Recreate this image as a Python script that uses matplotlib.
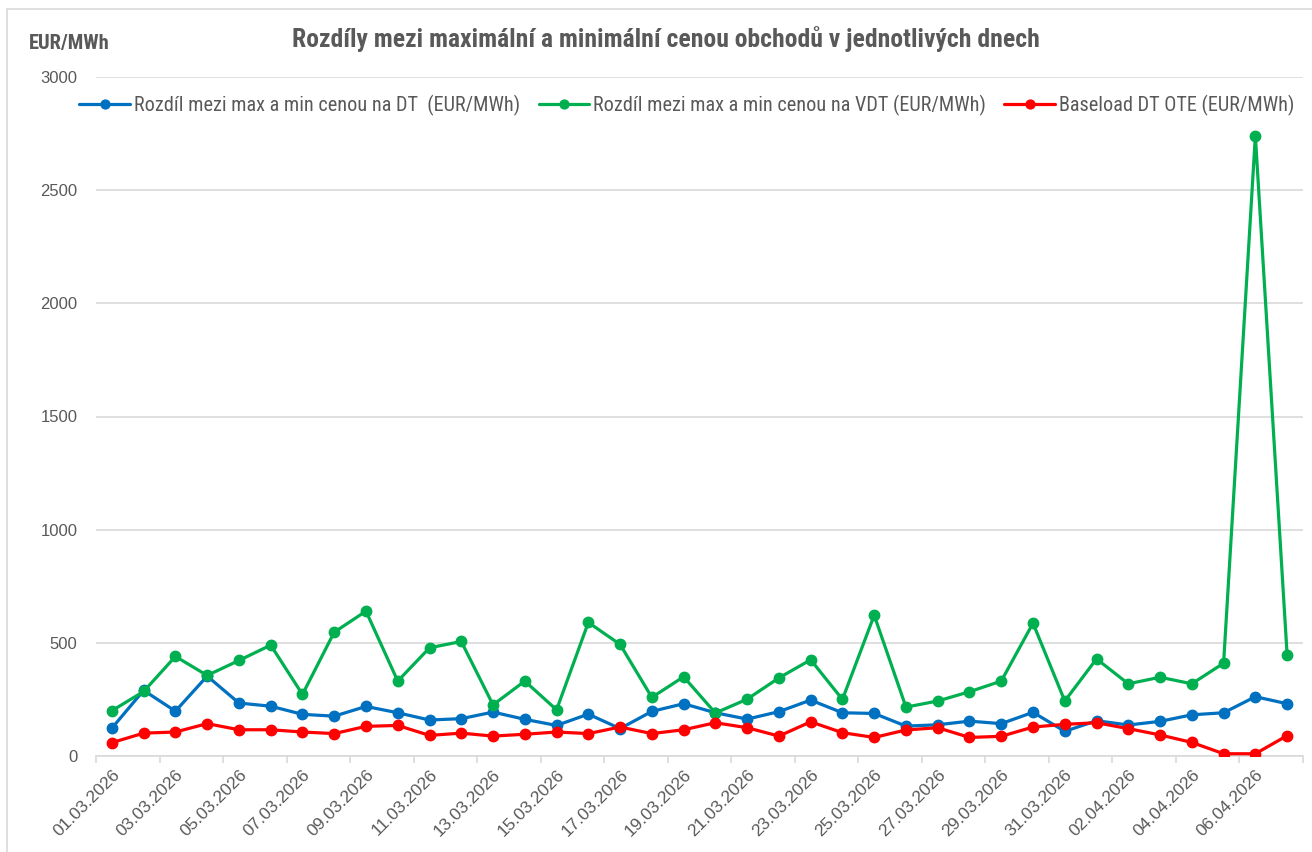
import matplotlib
matplotlib.use("Agg")
import matplotlib.pyplot as plt
import matplotlib.patches as mpatches
import numpy as np
import pandas as pd

dates = pd.date_range("2026-03-01", "2026-04-07", freq="D").strftime("%d.%m.%Y").tolist()

dt_diff = [123, 290, 198, 353, 234, 220, 184, 176, 219, 191, 159, 165, 194,
           162, 135, 185, 121, 197, 231, 191, 163, 196, 247, 191, 188, 132,
           138, 154, 143, 193, 109, 156, 137, 153, 182, 191, 262, 231]
vdt_diff = [200, 285, 440, 356, 422, 490, 272, 547, 640, 331, 478, 506, 226,
            331, 204, 590, 493, 259, 350, 190, 251, 345, 425, 250, 622, 216,
            243, 284, 331, 587, 243, 429, 319, 348, 319, 410, 2740, 447]
baseload = [59, 101, 106, 143, 116, 116, 106, 99, 131, 135, 91, 101, 88,
            96, 106, 99, 128, 99, 116, 147, 125, 88, 151, 103, 82, 115,
            125, 82, 87, 128, 140, 147, 121, 93, 60, 10, 10, 90]

series_names = ["Rozdíl mezi max a min cenou na DT  (EUR/MWh)",
                "Rozdíl mezi max a min cenou na VDT (EUR/MWh)",
                "Baseload DT OTE (EUR/MWh)"]
colors = ["#0070C0", "#00B050", "#FF0000"]
y_ticks = [0, 500, 1000, 1500, 2000, 2500, 3000]

W, H = 1312, 852
fig = plt.figure(figsize=(W / 100, H / 100), dpi=100)
fig.patch.set_facecolor("white")

narrow = ["Liberation Sans Narrow", "Roboto Condensed", "Roboto", "DejaVu Sans"]
arial = ["Liberation Sans", "DejaVu Sans"]
gray = "#595959"

# outer chart border
fig.patches.append(mpatches.Rectangle((7 / W, -0.01), 1.1, 1 - 9 / H + 0.01,
                                      transform=fig.transFigure, fill=False,
                                      edgecolor="#D9D9D9", linewidth=1.2))

ax = fig.add_axes([96 / W, 1 - 756 / H, (1303 - 96) / W, (756 - 77) / H])
x = np.arange(len(dates))

for vals, name, c, z in zip([dt_diff, vdt_diff, baseload], series_names, colors, [3, 4, 5]):
    ax.plot(x, vals, color=c, linewidth=2.3, marker="o", markersize=7.5,
            label=name, zorder=z, solid_capstyle="round")

ax.set_xlim(-0.5, len(dates) - 0.5)
ax.set_ylim(0, 3000)
ax.set_yticks(y_ticks)
ax.set_yticklabels([str(v) for v in y_ticks], fontsize=12, color=gray, family=arial)
ax.yaxis.grid(True, color="#D9D9D9", linewidth=1.2, zorder=0)
ax.tick_params(axis="y", length=0, pad=13.5)

# category labels every 2 days, tick marks between categories
ax.set_xticks(x[::2])
ax.set_xticklabels(dates[::2], rotation=45, ha="right", rotation_mode="anchor",
                   fontsize=12.5, color=gray, family=arial)
ax.tick_params(axis="x", length=0, pad=8)
ax.set_xticks(np.arange(-0.5, len(dates), 2), minor=True)
ax.tick_params(axis="x", which="minor", length=5, color="#D9D9D9", width=1.2)

for s in ["top", "right", "left"]:
    ax.spines[s].set_visible(False)
ax.spines["bottom"].set_color("#D9D9D9")
ax.spines["bottom"].set_linewidth(1.2)
ax.set_axisbelow(True)

title = fig.text(666 / W, 1 - 39 / H,
                 "Rozdíly mezi maximální a minimální cenou obchodů v jednotlivých dnech",
                 ha="center", va="center", fontsize=15.5, fontweight="bold",
                 color=gray, family=narrow)
ylab = fig.text(29 / W, 1 - 44 / H, "EUR/MWh", ha="left", va="center", fontsize=12.5,
                fontweight="bold", color=gray, family=narrow)

renderer = fig.canvas.get_renderer()


def fit_text(t, target_px):
    for _ in range(3):
        w = t.get_window_extent(renderer).width
        t.set_fontsize(t.get_fontsize() * target_px / w)


fit_text(title, 750)
fit_text(ylab, 81)


def make_legend(size):
    lg = ax.legend(loc="center", bbox_to_anchor=(687 / W, 1 - 105 / H),
                   bbox_transform=fig.transFigure, ncol=3, frameon=False,
                   prop={"family": narrow, "size": size}, handlelength=2.5,
                   handletextpad=0.2, columnspacing=0.9, markerscale=0.85,
                   borderpad=0, borderaxespad=0)
    for t in lg.get_texts():
        t.set_color(gray)
    return lg


size = 13.5
for _ in range(3):
    leg = make_legend(size)
    w = leg.get_window_extent(renderer).width
    size = size * 1220 / w
leg = make_legend(size)

fig.savefig("out.png", dpi=100, facecolor="white")
